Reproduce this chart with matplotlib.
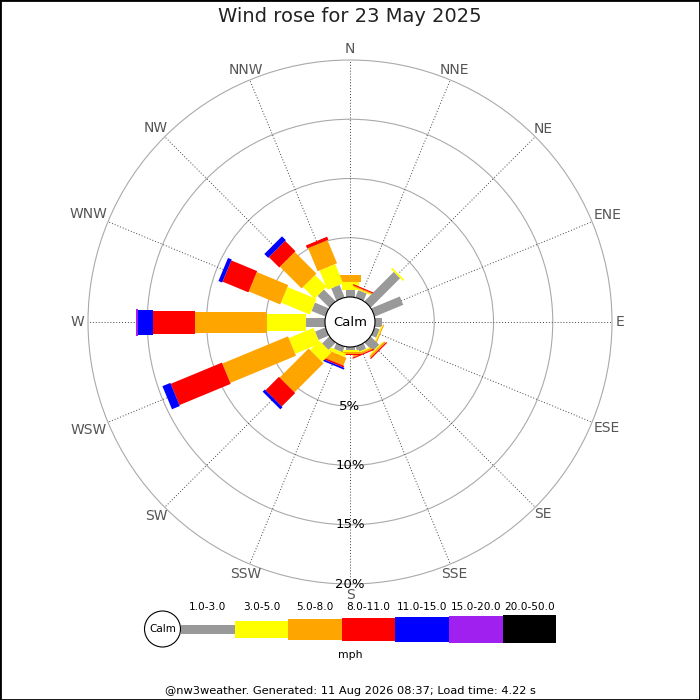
import numpy as np
import matplotlib
matplotlib.use("Agg")
import matplotlib.pyplot as plt
from matplotlib.patches import Polygon, Circle, Rectangle

# --- data -------------------------------------------------------------
directions = ["N", "NNE", "NE", "ENE", "E", "ESE", "SE", "SSE",
              "S", "SSW", "SW", "WSW", "W", "WNW", "NW", "NNW"]
speed_bands = ["1.0-3.0", "3.0-5.0", "5.0-8.0", "8.0-11.0",
               "11.0-15.0", "15.0-20.0", "20.0-50.0"]
band_colors = ["#999999", "#ffff00", "#ffa500", "#ff0000",
               "#0000ff", "#a020f0", "#000000"]

# percentage of time per direction for each speed band (mph)
pct_1_3   = [0.60, 0.65, 3.50, 2.60, 0.55, 0.45, 1.00, 0.50, 0.25, 0.50, 0.84, 0.93, 1.63, 1.25, 1.39, 1.12]
pct_3_5   = [0.70, 0.10, 0.15, 0.00, 0.00, 0.10, 0.10, 0.10, 0.20, 0.30, 1.10, 2.26, 3.29, 2.65, 1.39, 1.77]
pct_5_8   = [0.55, 0.10, 0.00, 0.00, 0.00, 0.10, 0.15, 0.15, 0.15, 0.70, 3.46, 6.00, 6.02, 2.87, 2.59, 2.11]
pct_8_11  = [0.00, 0.10, 0.00, 0.00, 0.00, 0.00, 0.10, 0.10, 0.10, 0.15, 1.60, 4.68, 3.55, 2.36, 1.23, 0.28]
pct_11_15 = [0.00, 0.00, 0.00, 0.00, 0.00, 0.00, 0.00, 0.00, 0.00, 0.15, 0.26, 0.72, 1.29, 0.34, 0.46, 0.00]
pct_15_20 = [0.00, 0.00, 0.00, 0.00, 0.00, 0.00, 0.00, 0.00, 0.00, 0.00, 0.00, 0.00, 0.17, 0.00, 0.00, 0.00]
pct_20_50 = [0.00] * 16

rings = [5, 10, 15, 20]

# --- layout (pixels -> percent units) ---------------------------------
U = 11.85            # pixels per 1 %
R0 = 25 / U          # calm circle radius
band_w = np.array([9, 17, 21, 23, 25, 27, 28]) / U

fig = plt.figure(figsize=(7, 7), dpi=100)
ax = fig.add_axes([0, 0, 1, 1])
ax.set_xlim(-350 / U, 350 / U)
ax.set_ylim(-378 / U, 322 / U)
ax.set_aspect("equal")
ax.axis("off")

theta = np.deg2rad(np.arange(16) * 22.5)
rmax = R0 + rings[-1]

# grid
for r in rings:
    ax.add_patch(Circle((0, 0), R0 + r, fill=False, ec="#aaaaaa", lw=0.8, zorder=1))
for t in theta:
    ax.plot([0, rmax * np.sin(t)], [0, rmax * np.cos(t)], color="#444444",
            lw=0.7, ls=(0, (1, 2)), zorder=1)

# bars
data = np.array([pct_1_3, pct_3_5, pct_5_8, pct_8_11, pct_11_15, pct_15_20, pct_20_50])
for i, t in enumerate(theta):
    d = np.array([np.sin(t), np.cos(t)])
    n = np.array([np.cos(t), -np.sin(t)])
    r_in = R0
    for b in range(len(speed_bands)):
        v = data[b, i]
        if v <= 0:
            continue
        r_out = r_in + v
        h = band_w[b] / 2
        pts = [r_in * d + h * n, r_out * d + h * n, r_out * d - h * n, r_in * d - h * n]
        ax.add_patch(Polygon(pts, closed=True, fc=band_colors[b], ec="none", zorder=3))
        r_in = r_out

# calm circle
ax.add_patch(Circle((0, 0), R0, fc="white", ec="black", lw=0.8, zorder=5))
ax.text(0, 0, "Calm", ha="center", va="center", fontsize=9.5, zorder=6)

# ring labels
for r in rings:
    ax.text(0, -(R0 + r), f"{r}%", ha="center", va="center", fontsize=9.5, zorder=6)

# direction labels, pushed out so the box clears the outer ring
renderer = fig.canvas.get_renderer()
for name, t in zip(directions, theta):
    txt = ax.text(0, 0, name, ha="center", va="center", fontsize=10, color="#555555")
    bb = txt.get_window_extent(renderer)
    rpx = 266 + max(abs(np.sin(t)) * bb.width / 2, abs(np.cos(t)) * bb.height / 2)
    txt.set_position((rpx / U * np.sin(t), rpx / U * np.cos(t)))

# legend
leg_y = -(629 - 322) / U
leg_x0 = (181 - 350) / U
seg = 53.6 / U
ax.add_patch(Circle(((162.5 - 350) / U, leg_y), 18 / U, fc="white", ec="black", lw=0.8))
ax.text((162.5 - 350) / U, leg_y, "Calm", ha="center", va="center", fontsize=7.5)
for b, (lab, col) in enumerate(zip(speed_bands, band_colors)):
    x0 = leg_x0 + b * seg
    ax.add_patch(Rectangle((x0, leg_y - band_w[b] / 2), seg, band_w[b], fc=col, ec="none"))
    ax.text(x0 + seg / 2, -(607 - 322) / U, lab, ha="center", va="center", fontsize=7.6)
ax.text(0, -(655 - 322) / U, "mph", ha="center", va="center", fontsize=7.8)

fig.text(0.5, 1 - 17 / 700, "Wind rose for 23 May 2025", ha="center", va="center",
         fontsize=14, color="#222222")
fig.text(0.5, 1 - 691 / 700, "@nw3weather. Generated: 11 Aug 2026 08:37; Load time: 4.22 s",
         ha="center", va="center", fontsize=8.2)
fig.add_artist(Rectangle((0, 0), 1, 1, transform=fig.transFigure, fill=False, ec="black", lw=2))

fig.savefig("out.png", dpi=100)
